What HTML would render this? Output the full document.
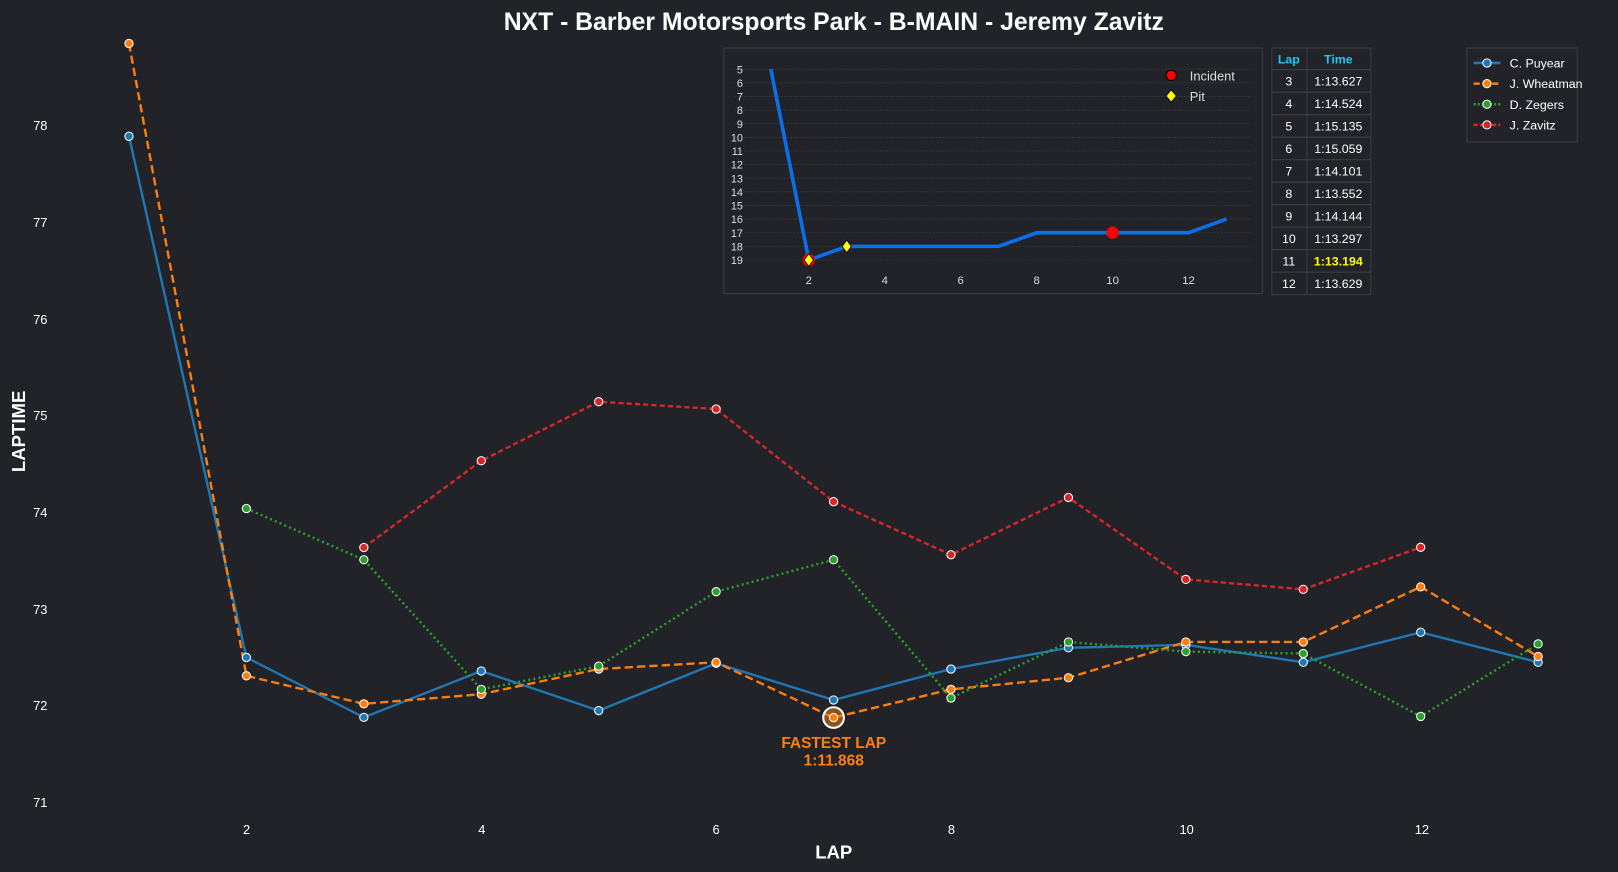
<!DOCTYPE html>
<html><head><meta charset="utf-8"><style>
html,body{margin:0;padding:0;background:#212329;}
svg{display:block;font-family:"Liberation Sans",sans-serif;}
</style></head><body>
<svg id="s" width="1618" height="872" viewBox="0 0 1568 845" xmlns="http://www.w3.org/2000/svg">
<rect width="1568" height="845" fill="#212329"/>
<text x="808" y="29" text-anchor="middle" fill="#fff" font-size="24" font-weight="bold">NXT - Barber Motorsports Park - B-MAIN - Jeremy Zavitz</text>
<g fill="#fff" font-size="12.5" text-anchor="end">
<text x="46" y="126">78</text><text x="46" y="220">77</text><text x="46" y="314">76</text><text x="46" y="407">75</text>
<text x="46" y="501">74</text><text x="46" y="595">73</text><text x="46" y="688">72</text><text x="46" y="782">71</text>
</g>
<g fill="#fff" font-size="12.5" text-anchor="middle">
<text x="239" y="808">2</text><text x="467" y="808">4</text><text x="694" y="808">6</text><text x="922" y="808">8</text><text x="1150" y="808">10</text><text x="1378" y="808">12</text>
</g>
<text x="808" y="832" text-anchor="middle" fill="#fff" font-size="18" font-weight="bold">LAP</text>
<text transform="translate(24,418) rotate(-90)" text-anchor="middle" fill="#fff" font-size="18" font-weight="bold">LAPTIME</text>
<g id="main"></g>
<text x="808" y="725" text-anchor="middle" fill="#ff7f0e" font-size="15" font-weight="bold">FASTEST LAP</text>
<text x="808" y="742" text-anchor="middle" fill="#ff7f0e" font-size="15" font-weight="bold">1:11.868</text>
<rect x="701.5" y="46.5" width="522" height="238" fill="#212329" stroke="#3a3d44"/>
<g id="inset"></g>
<circle cx="1135" cy="73" r="5" fill="#ff0000" stroke="#000"/>
<text x="1153" y="78" fill="#ddd" font-size="12.5">Incident</text>
<path d="M1135,87 l5,6 l-5,6 l-5,-6z" fill="#ffff00" stroke="#000" stroke-width="0.8"/>
<text x="1153" y="98" fill="#ddd" font-size="12.5">Pit</text>
<g id="tbl"></g>
<rect x="1421.5" y="46.5" width="107" height="91" fill="#212329" stroke="#3a3d44"/>
<g font-size="12" fill="#fff">
<line x1="1428" y1="61" x2="1454" y2="61" stroke="#1f77b4" stroke-width="2.5"/><circle cx="1441" cy="61" r="4" fill="#1f77b4" stroke="#fff"/><text x="1463" y="65.5">C. Puyear</text>
<line x1="1428" y1="81" x2="1454" y2="81" stroke="#ff7f0e" stroke-width="2.5" stroke-dasharray="6,3"/><circle cx="1441" cy="81" r="4" fill="#ff7f0e" stroke="#fff"/><text x="1463" y="85.5">J. Wheatman</text>
<line x1="1428" y1="101" x2="1454" y2="101" stroke="#2ca02c" stroke-width="2.5" stroke-dasharray="2,2"/><circle cx="1441" cy="101" r="4" fill="#2ca02c" stroke="#fff"/><text x="1463" y="105.5">D. Zegers</text>
<line x1="1428" y1="121" x2="1454" y2="121" stroke="#d62728" stroke-width="2.5" stroke-dasharray="4,2"/><circle cx="1441" cy="121" r="4" fill="#d62728" stroke="#fff"/><text x="1463" y="125.5">J. Zavitz</text>
</g>
</svg>
<script>
var NS="http://www.w3.org/2000/svg";
function el(p,t,a,txt){var e=document.createElementNS(NS,t);for(var k in a)e.setAttribute(k,a[k]);if(txt!==undefined)e.textContent=txt;p.appendChild(e);return e;}
function X(l){return 125+(l-1)*113.8;}
function Y(v){return 683-(v-72)*93.7;}
var m=document.getElementById('main');
var S=[
 {c:"#1f77b4",d:"",s:1,v:[77.88,72.49,71.87,72.35,71.94,72.43,72.05,72.37,72.59,72.62,72.44,72.75,72.44]},
 {c:"#ff7f0e",d:"8,4",s:1,v:[78.84,72.30,72.01,72.11,72.37,72.44,71.868,72.16,72.28,72.65,72.65,73.22,72.50]},
 {c:"#2ca02c",d:"2,3",s:2,v:[74.03,73.50,72.16,72.40,73.17,73.50,72.07,72.65,72.55,72.53,71.88,72.63]},
 {c:"#d62728",d:"5,3",s:3,v:[73.627,74.524,75.135,75.059,74.101,73.552,74.144,73.297,73.194,73.629]}
];
S.forEach(function(s){
 var pts=s.v.map(function(v,i){return X(i+s.s)+","+Y(v);}).join(" ");
 var a={points:pts,fill:"none",stroke:s.c,"stroke-width":2.3};
 if(s.d)a["stroke-dasharray"]=s.d;
 el(m,"polyline",a);
});
el(m,"circle",{cx:X(7),cy:Y(71.868),r:10,fill:"#ff7f0e","fill-opacity":0.5,stroke:"#fff","stroke-width":2});
S.forEach(function(s){s.v.forEach(function(v,i){el(m,"circle",{cx:X(i+s.s),cy:Y(v),r:4,fill:s.c,stroke:"#fff","stroke-width":1});});});
var g=document.getElementById('inset');
function IX(l){return 747+(l-1)*36.8;}
function IY(p){return 67+(p-5)*13.21;}
for(var p=5;p<=19;p++){
 el(g,"line",{x1:712,x2:1212,y1:IY(p),y2:IY(p),stroke:"#3a3d44","stroke-width":0.8,"stroke-dasharray":"1.5,1.5"});
 el(g,"text",{x:720,y:IY(p)+4,fill:"#ddd","font-size":10.5,"text-anchor":"end"},String(p));
}
[2,4,6,8,10,12].forEach(function(l){el(g,"text",{x:IX(l),y:275,fill:"#ddd","font-size":11,"text-anchor":"middle"},String(l));});
var pos=[5,19,18,18,18,18,18,17,17,17,17,17,16];
el(g,"polyline",{points:pos.map(function(p,i){return IX(i+1)+","+IY(p);}).join(" "),fill:"none",stroke:"#0a6fe8","stroke-width":3.5});
el(g,"circle",{cx:IX(2),cy:IY(19),r:6,fill:"#ff0000"});
el(g,"circle",{cx:IX(10),cy:IY(17),r:6,fill:"#ff0000"});
[[2,19],[3,18]].forEach(function(q){var x=IX(q[0]),y=IY(q[1]);el(g,"path",{d:"M"+x+","+(y-6)+" l4.5,6 l-4.5,6 l-4.5,-6z",fill:"#ffff00",stroke:"#000","stroke-width":0.8});});
var t=document.getElementById('tbl');
var rows=[["3","1:13.627"],["4","1:14.524"],["5","1:15.135"],["6","1:15.059"],["7","1:14.101"],["8","1:13.552"],["9","1:14.144"],["10","1:13.297"],["11","1:13.194"],["12","1:13.629"]];
var y0=46.5,h0=21,rh=21.8;
el(t,"rect",{x:1232.5,y:y0,width:96,height:h0,fill:"#212329",stroke:"#3a3d44"});
el(t,"text",{x:1249,y:y0+15,fill:"#1ec8f0","font-size":12,"font-weight":"bold","text-anchor":"middle"},"Lap");
el(t,"text",{x:1297,y:y0+15,fill:"#1ec8f0","font-size":12,"font-weight":"bold","text-anchor":"middle"},"Time");
rows.forEach(function(r,i){var y=y0+h0+i*rh;
 el(t,"rect",{x:1232.5,y:y,width:96,height:rh,fill:"none",stroke:"#3a3d44"});
 el(t,"text",{x:1249,y:y+15.5,fill:"#fff","font-size":12,"text-anchor":"middle"},r[0]);
 var best=r[0]=="11";
 el(t,"text",{x:1297,y:y+15.5,fill:best?"#ffff00":"#fff","font-size":12,"font-weight":best?"bold":"normal","text-anchor":"middle"},r[1]);
});
el(t,"line",{x1:1266.5,x2:1266.5,y1:y0,y2:y0+h0+rh*10,stroke:"#3a3d44"});
</script>
</body></html>
